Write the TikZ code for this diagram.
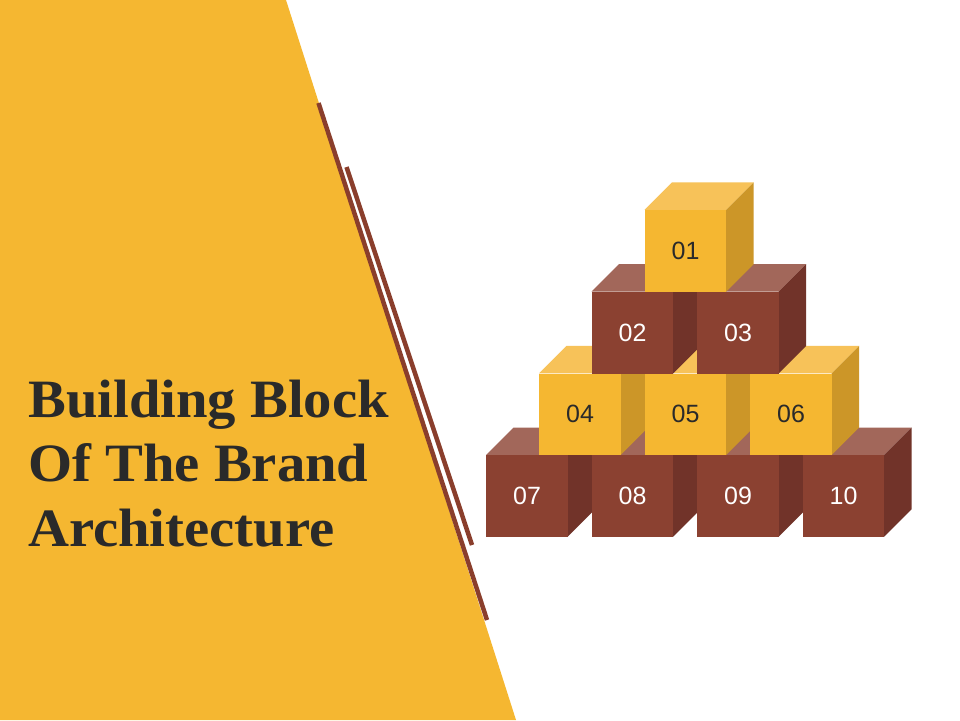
\documentclass[tikz,border=0pt]{standalone}
\usepackage{fontspec}
\setmainfont{Liberation Sans}
\newfontfamily\titlefont[FakeStretch=1.05]{Liberation Serif}
\definecolor{bgyellow}{HTML}{F5B731}
\definecolor{linebrown}{HTML}{8A3E2C}
\definecolor{yfront}{HTML}{F5B731}
\definecolor{ytop}{HTML}{F7C259}
\definecolor{yside}{HTML}{CC9628}
\definecolor{bfront}{HTML}{8B4131}
\definecolor{btop}{HTML}{A2675A}
\definecolor{bside}{HTML}{713329}
\definecolor{darktext}{HTML}{2A2A2A}
\tikzset{
  title/.style={anchor=base west, inner sep=0pt, text=darktext, font=\titlefont\bfseries\fontsize{54}{64}\selectfont},
  deco/.style={draw=linebrown, line width=4.5pt},
  frontbox/.style={minimum width=81.7pt, minimum height=81.7pt, inner sep=0pt, font=\fontsize{25}{30}\selectfont},
}
% #1 x, #2 y (top-left of front), #3 colour prefix (y/b), #4 label, #5 name, #6 text colour
\newcommand{\mycube}[6]{%
  \fill[#3top] (#1,#2) -- ++(27.5,-27.5) -- ++(81.7,0) -- ++(-27.5,27.5) -- cycle;
  \fill[#3side] (#1+81.7,#2) -- ++(27.5,-27.5) -- ++(0,81.7) -- ++(-27.5,27.5) -- cycle;
  \node[frontbox, fill=#3front, text=#6, anchor=north west] (#5) at (#1,#2) {#4};
}
\begin{document}
\begin{tikzpicture}[x=1pt,y=-1pt]
\useasboundingbox (0,0) rectangle (960,720);
\fill[white] (0,0) rectangle (960,720);
\fill[bgyellow] (0,0) -- (286,0) -- (516,720) -- (0,720) -- cycle;
\draw[deco] (318.5,103) -- (487,620);
\draw[deco] (346.5,167) -- (472,545);
\node[title] (t1) at (28,417) {Building Block};
\node[title] (t2) at (28,481) {Of The Brand};
\node[title] (t3) at (28,546) {Architecture};
% bottom row
\mycube{486}{455}{b}{07}{c07}{white}
\mycube{591.5}{455}{b}{08}{c08}{white}
\mycube{697}{455}{b}{09}{c09}{white}
\mycube{802.5}{455}{b}{10}{c10}{white}
% second row
\mycube{539}{373.3}{y}{04}{c04}{darktext}
\mycube{644.5}{373.3}{y}{05}{c05}{darktext}
\mycube{750}{373.3}{y}{06}{c06}{darktext}
% third row
\mycube{591.5}{291.6}{b}{02}{c02}{white}
\mycube{697}{291.6}{b}{03}{c03}{white}
% top
\mycube{644.5}{209.9}{y}{01}{c01}{darktext}
\end{tikzpicture}
\end{document}
